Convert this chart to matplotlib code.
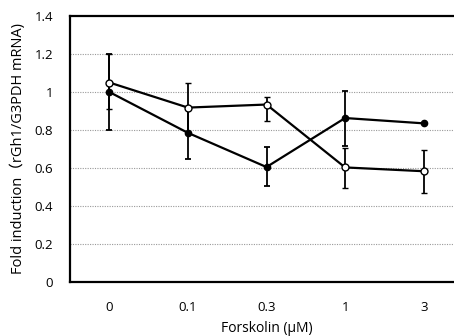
import matplotlib
matplotlib.use('Agg')
import matplotlib.pyplot as plt
import numpy as np

doses = ['0', '0.1', '0.3', '1', '3']

filled_vals = [1.00, 0.785, 0.605, 0.863, 0.835]
filled_lo = [0.20, 0.135, 0.10, 0.145, 0.0]
filled_hi = [0.20, 0.135, 0.105, 0.14, 0.0]

open_vals = [1.05, 0.918, 0.934, 0.603, 0.583]
open_lo = [0.14, 0.13, 0.088, 0.107, 0.117]
open_hi = [0.15, 0.132, 0.04, 0.103, 0.114]

yticks = [0, 0.2, 0.4, 0.6, 0.8, 1.0, 1.2, 1.4]
ytick_labels = ['0', '0.2', '0.4', '0.6', '0.8', '1', '1.2', '1.4']

plt.rcParams['font.family'] = ['Open Sans', 'Noto Sans CJK JP']

fig = plt.figure(figsize=(4.54, 3.36), dpi=100)
ax = fig.add_axes([70 / 454, 1 - 282 / 336, 393 / 454, 266 / 336])

x = np.arange(len(doses))
ax.errorbar(x, filled_vals, yerr=[filled_lo, filled_hi], color='black', lw=1.6,
            marker='o', ms=4.5, mfc='black', mec='black', capsize=2.5,
            elinewidth=1.3, capthick=1.3, zorder=3)
ax.errorbar(x, open_vals, yerr=[open_lo, open_hi], color='black', lw=1.6,
            marker='o', ms=5, mfc='white', mec='black', mew=1.0, capsize=2.5,
            elinewidth=1.3, capthick=1.3, zorder=4)

ax.set_xlim(-0.5, 4.5)
ax.set_ylim(0, 1.4)
ax.set_xticks(x)
ax.set_xticklabels(doses)
ax.set_yticks(yticks)
ax.set_yticklabels(ytick_labels)
ax.tick_params(length=0, labelsize=9.5, pad=12)
ax.tick_params(axis='x', pad=14)

for y in yticks[1:-1]:
    ax.axhline(y, color='#999999', lw=0.8, ls=(0, (1, 1.2)), zorder=1)

for s in ['left', 'bottom', 'top']:
    ax.spines[s].set_linewidth(1.6)
    ax.spines[s].set_color('black')
ax.spines['right'].set_visible(False)

ax.set_xlabel('Forskolin (μM)', fontsize=10, labelpad=5)
ax.set_ylabel('Fold induction（rGh1/G3PDH mRNA)', fontsize=10.5, labelpad=6,
              fontweight='medium')

fig.savefig('out.png', dpi=100)
